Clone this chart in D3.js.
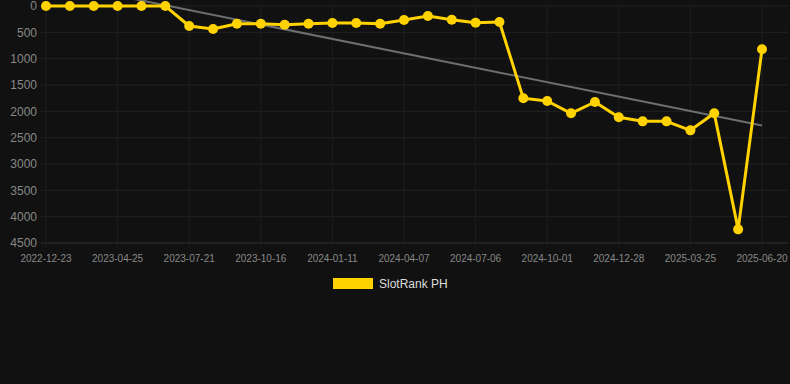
<!DOCTYPE html>
<html>
<head>
<meta charset="utf-8">
<script src="https://cdn.jsdelivr.net/npm/d3@7"></script>
<style>
  html, body { margin: 0; padding: 0; background: #111111; }
  svg { display: block; font-family: "Liberation Sans", Arial, sans-serif; }
</style>
</head>
<body>
<svg id="chart"></svg>
<script>
const dates = ["2022-12-23", "2023-02-03", "2023-03-16", "2023-04-25", "2023-05-24", "2023-06-22",
               "2023-07-21", "2023-08-19", "2023-09-17", "2023-10-16", "2023-11-14", "2023-12-13",
               "2024-01-11", "2024-02-09", "2024-03-09", "2024-04-07", "2024-05-07", "2024-06-06",
               "2024-07-06", "2024-08-04", "2024-09-02", "2024-10-01", "2024-10-30", "2024-11-29",
               "2024-12-28", "2025-01-26", "2025-02-24", "2025-03-25", "2025-04-23", "2025-05-22",
               "2025-06-20"];
const ranks = [1, 1, 1, 1, 1, 1,
               380, 437, 336, 336, 355, 336,
               323, 323, 336, 266, 190, 260,
               317, 304, 1753, 1804, 2038, 1823,
               2114, 2190, 2190, 2361, 2038, 4241,
               822];
const yTicks = [0, 500, 1000, 1500, 2000, 2500, 3000, 3500, 4000, 4500];
const seriesName = "SlotRank PH";

const width = 790;
const height = 384;
const margin = {top: 6, right: 28, bottom: 141, left: 46};
const lineColor = "#ffd200";

const svg = d3.select("#chart")
              .attr("width", width)
              .attr("height", height);

const x = d3.scalePoint()
            .domain(dates)
            .range([margin.left, width - margin.right]);

const y = d3.scaleLinear()
            .domain([0, 4500])
            .range([margin.top, height - margin.bottom]);

const labelled = dates.filter((d, i) => i % 3 === 0);

// grid
svg.append("g")
   .selectAll("line")
   .data(yTicks)
   .enter()
   .append("line")
   .attr("x1", 41)
   .attr("x2", 788)
   .attr("y1", d => y(d))
   .attr("y2", d => y(d))
   .style("stroke", d => d === 4500 ? "#333" : "#222")
   .style("stroke-width", 1);

svg.append("g")
   .selectAll("line")
   .data(labelled)
   .enter()
   .append("line")
   .attr("x1", d => x(d))
   .attr("x2", d => x(d))
   .attr("y1", margin.top)
   .attr("y2", y(4500) + 5)
   .style("stroke", "#1e1e1e")
   .style("stroke-width", 1);

// y labels
svg.append("g")
   .selectAll("text")
   .data(yTicks)
   .enter()
   .append("text")
   .attr("x", 37)
   .attr("y", d => y(d))
   .attr("dy", "0.35em")
   .attr("text-anchor", "end")
   .style("font-size", "12px")
   .style("fill", "#888")
   .text(d => d);

// x labels
svg.append("g")
   .selectAll("text")
   .data(labelled)
   .enter()
   .append("text")
   .attr("x", d => x(d))
   .attr("y", 262)
   .attr("text-anchor", "middle")
   .style("font-size", "10px")
   .style("fill", "#888")
   .text(d => d);

// trend line (least squares over index)
const n = ranks.length;
const mx = d3.mean(ranks, (d, i) => i);
const my = d3.mean(ranks);
const slope = d3.sum(ranks, (d, i) => (i - mx) * (d - my)) / d3.sum(ranks, (d, i) => (i - mx) * (i - mx));
const icpt = my - slope * mx;

svg.append("line")
   .attr("x1", x(dates[0]))
   .attr("y1", y(icpt))
   .attr("x2", x(dates[n - 1]))
   .attr("y2", y(icpt + slope * (n - 1)))
   .style("stroke", "#6e6e6e")
   .style("stroke-width", 2);

// series
const line = d3.line()
               .x((d, i) => x(dates[i]))
               .y(d => y(d));

svg.append("path")
   .datum(ranks)
   .attr("d", line)
   .style("fill", "none")
   .style("stroke", lineColor)
   .style("stroke-width", 3)
   .style("stroke-linejoin", "round");

svg.append("g")
   .selectAll("circle")
   .data(ranks)
   .enter()
   .append("circle")
   .attr("cx", (d, i) => x(dates[i]))
   .attr("cy", d => y(d))
   .attr("r", 5)
   .style("fill", lineColor);

// legend
const legend = svg.append("g");
legend.append("rect")
      .attr("x", 333)
      .attr("y", 278)
      .attr("width", 40)
      .attr("height", 11)
      .style("fill", lineColor);
legend.append("text")
      .attr("x", 379)
      .attr("y", 284)
      .attr("dy", "0.35em")
      .style("font-size", "12px")
      .style("fill", "#ddd")
      .text(seriesName);
</script>
</body>
</html>
